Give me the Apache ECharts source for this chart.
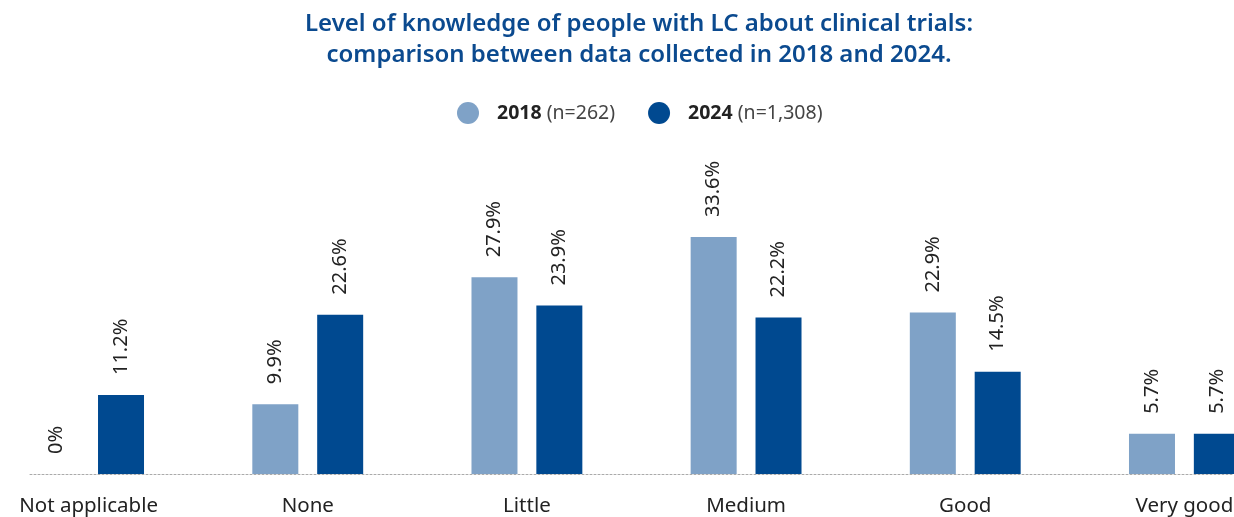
<!DOCTYPE html>
<html>
<head>
<meta charset="utf-8">
<script src="https://cdn.jsdelivr.net/npm/echarts@6/dist/echarts.min.js"></script>
<style>html,body{margin:0;padding:0;background:#fff;}#c{width:1234px;height:517px;}</style>
</head>
<body>
<div id="c"></div>
<script>
const titleText = 'Level of knowledge of people with LC about clinical trials:\ncomparison between data collected in 2018 and 2024.';
const categories = ['Not applicable', 'None', 'Little', 'Medium', 'Good', 'Very good'];
const seriesNames = ['2018', '2024'];
const sampleSizes = ['262', '1,308'];
const values2018 = [0, 9.9, 27.9, 33.6, 22.9, 5.7];
const values2024 = [11.2, 22.6, 23.9, 22.2, 14.5, 5.7];

const FONT = '"Noto Sans", "Open Sans", sans-serif';
const chart = echarts.init(document.getElementById('c'));
const labelCfg = {
  show: true, position: 'top', rotate: 90, distance: 20,
  align: 'left', verticalAlign: 'middle',
  formatter: p => p.value + '%',
  fontFamily: FONT, fontSize: 20, color: '#222'
};
chart.setOption({
  animation: false,
  title: {
    text: titleText, left: 634, top: 4, textAlign: 'center',
    textStyle: { fontFamily: FONT, fontSize: 24, fontWeight: 600, color: '#0b4a8f', lineHeight: 31, align: 'center' }
  },
  legend: {
    top: 97, left: 452, icon: 'circle', itemWidth: 22, itemHeight: 22, itemGap: 33,
    data: seriesNames,
    formatter: name => `{b|${name}}{n| (n=${sampleSizes[seriesNames.indexOf(name)]})}`,
    textStyle: {
      fontFamily: FONT,
      rich: {
        b: { fontFamily: FONT, fontSize: 19.5, fontWeight: 'bold', color: '#222', padding: [0, 0, 0, 13] },
        n: { fontFamily: FONT, fontSize: 19.5, color: '#444' }
      }
    }
  },
  grid: [
    { left: -21, width: 1315, bottom: 43, height: 282, outerBoundsMode: 'none', containLabel: false },
    { left: 30, right: 0, bottom: 43, height: 1, outerBoundsMode: 'none' }
  ],
  xAxis: [
    {
      type: 'category', data: categories, gridIndex: 0,
      axisLine: { show: false }, axisTick: { show: false },
      axisLabel: { fontFamily: FONT, fontSize: 20.5, color: '#222', margin: 22, interval: 0 }
    },
    {
      type: 'value', gridIndex: 1, min: 0, max: 1, position: 'bottom',
      axisLine: { show: true, lineStyle: { color: '#aaa', type: [2, 2], width: 1 } },
      axisTick: { show: false }, axisLabel: { show: false }, splitLine: { show: false }
    }
  ],
  yAxis: [
    { type: 'value', min: 0, max: 40, show: false, gridIndex: 0 },
    { type: 'value', min: 0, max: 1, show: false, gridIndex: 1 }
  ],
  series: [
    { name: seriesNames[0], type: 'bar', data: values2018, barWidth: 46, barGap: '41%',
      itemStyle: { color: '#7fa2c7' }, label: labelCfg },
    { name: seriesNames[1], type: 'bar', data: values2024, barWidth: 46, barGap: '41%',
      itemStyle: { color: '#004990' }, label: labelCfg }
  ]
});
</script>
</body>
</html>
